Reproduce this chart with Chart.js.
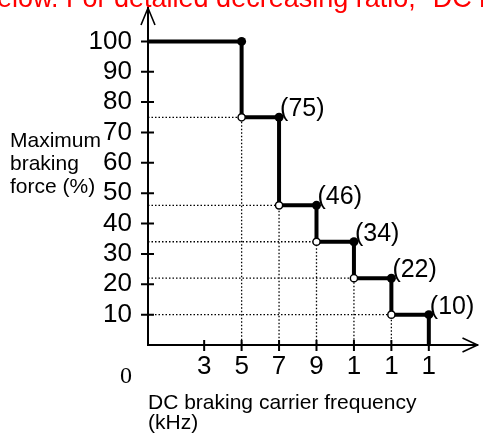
<!DOCTYPE html>
<html>
<head>
<meta charset="utf-8">
<script src="https://cdn.jsdelivr.net/npm/chart.js@4.4.1/dist/chart.umd.min.js"></script>
<style>
html, body { margin: 0; padding: 0; background: #fff; }
#wrap { position: relative; width: 483px; height: 438px; }
</style>
</head>
<body>
<div id="wrap"><canvas id="brakeChart" width="483" height="438"></canvas></div>
<script>
// step points: braking force at each carrier frequency
var freqs = [5, 7, 9, 11, 13, 15];
var forces = [100, 75, 46, 34, 22, 10];
var xTickValues = [3, 5, 7, 9, 11, 13, 15];
var xTickLabels = ['3', '5', '7', '9', '1', '1', '1'];
var yTickValues = [10, 20, 30, 40, 50, 60, 70, 80, 90, 100];
var yLabelLines = ['Maximum', 'braking', 'force (%)'];
var xLabelLines = ['DC braking carrier frequency', '(kHz)'];
var noteText = 'below. For detailed decreasing ratio, "DC braking';

// build the step line, the dots and the dotted guides
var stepPoints = [{x: 0, y: forces[0]}];
var closedPoints = [];
var openPoints = [];
var guidePoints = [];
for (var i = 0; i < freqs.length; i++) {
    var next = i + 1 < forces.length ? forces[i + 1] : 0;
    stepPoints.push({x: freqs[i], y: forces[i]});
    stepPoints.push({x: freqs[i], y: next});
    closedPoints.push({x: freqs[i], y: forces[i]});
    if (i + 1 < forces.length) {
        openPoints.push({x: freqs[i], y: next});
        guidePoints.push({x: 0, y: next}, {x: freqs[i], y: next}, {x: freqs[i], y: 0}, {x: freqs[i], y: null});
    }
}

var axisDecor = {
    id: 'axisDecor',
    afterDraw: function (chart) {
        var ctx = chart.ctx;
        var xs = chart.scales.x;
        var ys = chart.scales.y;
        var area = chart.chartArea;
        var ox = xs.getPixelForValue(0);
        var oy = ys.getPixelForValue(0);
        ctx.save();
        ctx.strokeStyle = '#000';
        ctx.lineWidth = 2;
        // tick marks crossing the axes
        ctx.beginPath();
        yTickValues.forEach(function (v) {
            var py = ys.getPixelForValue(v);
            ctx.moveTo(ox - 7, py);
            ctx.lineTo(ox + 6, py);
        });
        xTickValues.forEach(function (v) {
            var px = xs.getPixelForValue(v);
            ctx.moveTo(px, oy - 5);
            ctx.lineTo(px, oy + 6);
        });
        ctx.stroke();
        // arrow heads
        ctx.lineWidth = 1.6;
        ctx.beginPath();
        ctx.moveTo(ox - 7, area.top + 17);
        ctx.lineTo(ox, area.top);
        ctx.lineTo(ox + 7, area.top + 17);
        ctx.moveTo(area.right - 15, oy - 7);
        ctx.lineTo(area.right, oy);
        ctx.lineTo(area.right - 15, oy + 7);
        ctx.stroke();
        // value notes next to the dots
        ctx.fillStyle = '#000';
        ctx.textAlign = 'left';
        ctx.textBaseline = 'alphabetic';
        ctx.font = '25px Arial';
        for (var k = 1; k < freqs.length; k++) {
            ctx.fillText('(' + forces[k] + ')', xs.getPixelForValue(freqs[k]) + 1, ys.getPixelForValue(forces[k]) - 1);
        }
        // y axis caption
        ctx.font = '21px Arial';
        yLabelLines.forEach(function (t, n) {
            ctx.fillText(t, 10, 147 + n * 23);
        });
        // origin
        ctx.font = '24px "Liberation Serif", "Times New Roman", serif';
        ctx.textAlign = 'center';
        ctx.fillText('0', ox - 22, oy + 38);
        // clipped red note at the top
        ctx.fillStyle = '#ff0000';
        ctx.font = '27px Arial';
        ctx.textAlign = 'left';
        ctx.fillText(noteText, -3 - ctx.measureText('b').width, 7);
        ctx.restore();
    }
};

var ctx = document.getElementById('brakeChart').getContext('2d');
var brakeChart = new Chart(ctx, {
    type: 'scatter',
    data: {
        datasets: [
            {
                label: 'open',
                data: openPoints,
                pointRadius: 3.6,
                pointBorderWidth: 1.5,
                pointBackgroundColor: '#fff',
                pointBorderColor: '#000',
                showLine: false
            },
            {
                label: 'closed',
                data: closedPoints,
                pointRadius: 4.5,
                pointBorderWidth: 0,
                pointBackgroundColor: '#000',
                pointBorderColor: '#000',
                showLine: false
            },
            {
                label: 'step',
                data: stepPoints,
                showLine: true,
                borderColor: '#000',
                borderWidth: 4,
                pointRadius: 0,
                tension: 0
            },
            {
                label: 'guides',
                data: guidePoints,
                showLine: true,
                spanGaps: false,
                borderColor: '#000',
                borderWidth: 1.3,
                borderDash: [1.5, 2],
                pointRadius: 0,
                tension: 0
            }
        ]
    },
    options: {
        responsive: false,
        animation: false,
        layout: { padding: { top: 8, right: 2, left: 0, bottom: 0 } },
        plugins: {
            legend: { display: false },
            tooltip: { enabled: false }
        },
        scales: {
            x: {
                type: 'linear',
                min: 0,
                max: 17.6,
                afterBuildTicks: function (s) {
                    s.ticks = xTickValues.map(function (v) { return {value: v}; });
                },
                afterFit: function (s) {
                    s.height = 93;
                    s.paddingLeft = 0;
                    s.paddingRight = 0;
                },
                grid: { display: false, drawTicks: false },
                border: { display: true, color: '#000', width: 2 },
                ticks: {
                    color: '#000',
                    font: { family: 'Arial', size: 26 },
                    padding: 6,
                    maxRotation: 0,
                    autoSkip: false,
                    callback: function (v, i) { return xTickLabels[i]; }
                },
                title: {
                    display: true,
                    text: xLabelLines,
                    align: 'start',
                    color: '#000',
                    font: { family: 'Arial', size: 21, lineHeight: '20px' },
                    padding: { top: 0, bottom: 5 }
                }
            },
            y: {
                type: 'linear',
                min: 0,
                max: 111,
                afterBuildTicks: function (s) {
                    s.ticks = yTickValues.map(function (v) { return {value: v}; });
                },
                afterFit: function (s) {
                    s.width = 148;
                    s.paddingTop = 0;
                    s.paddingBottom = 0;
                },
                grid: { display: false, drawTicks: false },
                border: { display: true, color: '#000', width: 2 },
                ticks: {
                    color: '#000',
                    font: { family: 'Arial', size: 26 },
                    padding: 16
                }
            }
        }
    },
    plugins: [axisDecor]
});
</script>
</body>
</html>
